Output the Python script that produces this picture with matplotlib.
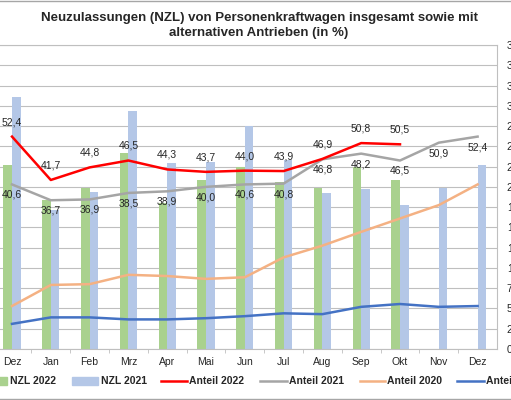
import numpy as np
import matplotlib.pyplot as plt
from matplotlib.lines import Line2D
from matplotlib.patches import Rectangle

plt.rcParams['font.family'] = ['Liberation Sans', 'DejaVu Sans']

monate = ['Dez', 'Jan', 'Feb', 'Mrz', 'Apr', 'Mai', 'Jun', 'Jul', 'Aug', 'Sep', 'Okt', 'Nov', 'Dez']
nzl_2022 = [227000, 184000, 199000, 242000, 180000, 208000, 225000, 206000, 199000, 225000, 209000, np.nan, np.nan]
nzl_2021 = [311000, 172000, 194000, 293000, 230000, 231000, 275000, 233000, 193000, 197000, 178000, 198000, 227000]
anteil_2022 = [52.4, 41.7, 44.8, 46.5, 44.3, 43.7, 44.0, 43.9, 46.9, 50.8, 50.5, np.nan, np.nan]
anteil_2021 = [40.6, 36.7, 36.9, 38.5, 38.9, 40.0, 40.6, 40.8, 46.8, 48.2, 46.5, 50.9, 52.4]
anteil_2020 = [10.6, 15.8, 16.0, 18.3, 18.0, 17.3, 17.7, 22.6, 25.5, 28.9, 32.2, 35.5, 40.6]
anteil_2019 = [6.2, 7.8, 7.8, 7.3, 7.3, 7.6, 8.1, 8.8, 8.6, 10.4, 11.1, 10.4, 10.6]
rechts_ticks = np.arange(0, 375001, 25000)

W, H = 511, 400
grau = '#BFBFBF'
txt = '#262626'


def px(xp, yp):
    return xp / W, 1 - yp / H


fig = plt.figure(figsize=(W / 100, H / 100), dpi=100)
ax = fig.add_axes([-7.4 / W, 51 / H, 504.4 / W, 304 / H])
x = np.arange(len(monate))
bw = 0.22
ax.bar(x - bw / 2, nzl_2022, bw, color='#A9D18E', zorder=2)
ax.bar(x + bw / 2, nzl_2021, bw, color='#B4C7E7', zorder=2)
ax.set_ylim(0, 375000)
ax.set_xlim(-0.5, 12.5)
ax.grid(axis='y', color=grau, lw=0.8, zorder=0)
ax.set_axisbelow(True)
for s in ax.spines.values():
    s.set_color(grau)
    s.set_linewidth(0.8)

ax2 = ax.twinx()
ax2.set_ylim(0, 75)
ax2.axis('off')
ax2.plot(x, anteil_2019, color='#4472C4', lw=1.8)
ax2.plot(x, anteil_2020, color='#F4B183', lw=1.8)
ax2.plot(x, anteil_2021, color='#A5A5A5', lw=1.8)
ax2.plot(x, anteil_2022, color='#FF0000', lw=1.8)

# twinx setzt die Ticks links, daher erst danach nach rechts
ax.yaxis.tick_right()
ax.set_yticks(rechts_ticks)
ax.set_yticklabels([f'{v:,}'.replace(',', '.') for v in rechts_ticks])
ax.tick_params(axis='y', length=0, pad=7, labelsize=7.5, labelcolor=txt)
ax.set_xticks(x, monate)
ax.set_xticks(np.arange(0.5, 12, 1), minor=True)
ax.tick_params(axis='x', which='major', length=0, pad=6, labelsize=7.5, labelcolor=txt)
ax.tick_params(axis='x', which='minor', length=3, color=grau)

for xi, v in zip(x, anteil_2022):
    if not np.isnan(v):
        ax2.annotate(f'{v:.1f}'.replace('.', ','), (xi, v), xytext=(0, 10.5),
                     textcoords='offset points', ha='center', va='center',
                     fontsize=7.5, color=txt)
for xi, v in zip(x, anteil_2021):
    ax2.annotate(f'{v:.1f}'.replace('.', ','), (xi, v), xytext=(0, -7.5),
                 textcoords='offset points', ha='center', va='center',
                 fontsize=7.5, color=txt)

# Titel
fig.text(*px(259, 18), 'Neuzulassungen (NZL) von Personenkraftwagen insgesamt sowie mit',
         ha='center', va='center', fontsize=9.5, fontweight='bold', color=txt)
fig.text(*px(259, 33), 'alternativen Antrieben (in %)',
         ha='center', va='center', fontsize=9.5, fontweight='bold', color=txt)

# Legende
ly = 381
for x0, x1, farbe, name in [(-18, 7, '#A9D18E', 'NZL 2022'), (72, 98, '#B4C7E7', 'NZL 2021')]:
    fig.patches.append(Rectangle(px(x0, ly + 4), (x1 - x0) / W, 8 / H,
                                 transform=fig.transFigure, color=farbe))
    fig.text(*px(x1 + 3, ly), name, ha='left', va='center', fontsize=7.5,
             fontweight='bold', color=txt)
for x0, x1, farbe, name in [(161, 187, '#FF0000', 'Anteil 2022'), (260, 287, '#A5A5A5', 'Anteil 2021'),
                            (360, 385, '#F4B183', 'Anteil 2020'), (457, 484, '#4472C4', 'Anteil 2019')]:
    fig.lines.append(Line2D([x0 / W, x1 / W], [1 - ly / H] * 2, transform=fig.transFigure,
                            color=farbe, lw=1.8))
    fig.text(*px(x1 + 2, ly), name, ha='left', va='center', fontsize=7.5,
             fontweight='bold', color=txt)

# Rahmen oben und unten
for yp in [0.5, 399.3]:
    fig.lines.append(Line2D([0, 1], [1 - yp / H] * 2, transform=fig.transFigure, color='#A6A6A6', lw=1))

fig.savefig('out.png', dpi=100)
